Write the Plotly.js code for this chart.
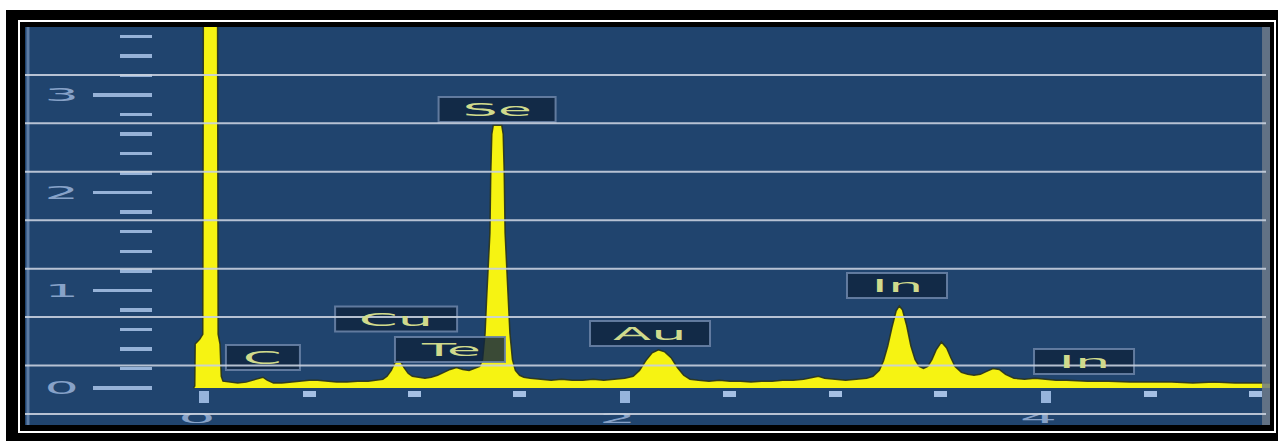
<!DOCTYPE html>
<html><head><meta charset="utf-8">
<script src="https://cdn.plot.ly/plotly-3.0.1.min.js"></script>
<style>
html,body{margin:0;padding:0;background:#fff;width:1278px;height:441px;overflow:hidden;}
#outer{position:absolute;left:6px;top:10px;width:1272px;height:431px;background:#000;}
#wline{position:absolute;left:18px;top:20px;width:1258px;height:413px;border:2px solid #fff;box-sizing:border-box;}
#chart{position:absolute;left:0;top:0;width:1278px;height:441px;}
</style></head><body>
<div id="outer"></div><div id="wline"></div><div id="chart"></div>
<script>
// ---- data (energy in keV, intensity) ----
const energy = [-0.05,-0.044,-0.042,-0.02,-0.006,-0.003,0.064,0.067,0.076,0.082,0.09,0.12,0.16,0.20,0.23,0.26,0.28,0.30,0.33,0.37,0.41,0.45,0.50,0.54,0.58,0.63,0.68,0.73,0.78,0.82,0.85,0.87,0.89,0.905,0.92,0.935,0.95,0.97,0.99,1.02,1.05,1.08,1.11,1.14,1.17,1.20,1.23,1.26,1.29,1.31,1.324,1.336,1.343,1.355,1.359,1.363,1.368,1.375,1.415,1.422,1.427,1.431,1.435,1.447,1.454,1.466,1.48,1.50,1.52,1.55,1.60,1.65,1.70,1.75,1.80,1.85,1.90,1.95,2.00,2.04,2.07,2.10,2.13,2.16,2.19,2.22,2.25,2.28,2.31,2.35,2.40,2.45,2.50,2.55,2.60,2.65,2.70,2.75,2.80,2.85,2.89,2.92,2.95,3.00,3.05,3.10,3.15,3.18,3.21,3.23,3.25,3.27,3.29,3.305,3.32,3.34,3.36,3.38,3.40,3.42,3.44,3.46,3.48,3.505,3.53,3.55,3.57,3.60,3.63,3.66,3.69,3.72,3.75,3.78,3.81,3.85,3.90,3.95,4.00,4.05,4.10,4.20,4.30,4.40,4.50,4.60,4.70,4.80,4.90,5.00,5.07];
const counts = [0,0.02,0.45,0.5,0.55,4.2,4.2,0.55,0.45,0.12,0.07,0.06,0.05,0.06,0.08,0.10,0.11,0.08,0.05,0.05,0.06,0.07,0.08,0.08,0.07,0.06,0.06,0.07,0.07,0.08,0.09,0.12,0.18,0.25,0.29,0.27,0.21,0.15,0.12,0.11,0.10,0.11,0.13,0.16,0.19,0.21,0.19,0.18,0.20,0.22,0.29,0.56,0.90,1.40,1.59,2.20,2.60,2.69,2.69,2.60,2.20,1.59,1.40,0.90,0.56,0.29,0.18,0.13,0.11,0.10,0.09,0.08,0.09,0.08,0.08,0.09,0.08,0.09,0.10,0.12,0.18,0.28,0.36,0.39,0.37,0.31,0.21,0.13,0.09,0.08,0.07,0.08,0.07,0.07,0.06,0.07,0.07,0.08,0.08,0.09,0.11,0.12,0.10,0.09,0.08,0.09,0.10,0.12,0.18,0.28,0.43,0.62,0.79,0.84,0.80,0.64,0.43,0.29,0.22,0.20,0.22,0.29,0.39,0.47,0.41,0.31,0.22,0.16,0.14,0.13,0.14,0.17,0.20,0.19,0.14,0.10,0.09,0.10,0.09,0.08,0.08,0.07,0.07,0.06,0.06,0.06,0.05,0.06,0.05,0.05,0.05];

const peakLabels  = ['C','Cu','Te','Se','Au','In','In'];
const labelEnergy = [0.280,0.913,1.169,1.393,2.120,3.294,4.183];
const labelLevel  = [0.312,0.706,0.394,2.851,0.558,1.049,0.271];

const xTickVals = [0,2,4];
const xTickText = ['0','2','4'];
const xMinorVals = [0.5,1,1.5,2.5,3,3.5,4.5,5];
const yTickVals = [0,1,2,3];
const yTickText = ['0','1','2','3'];
const yMinorVals = [0.2,0.4,0.6,0.8,1.2,1.4,1.6,1.8,2.2,2.4,2.6,2.8,3.2,3.4,3.6];

// ---- styling ----
const boxW = [74,122,110,117,120,100,100];
const boxH = 25;
const labelFont = {family:'DejaVu Sans', size:18, color:'rgb(208,218,140)'};

const shapes = [];
shapes.push({type:'line', xref:'paper', yref:'paper', x0:0.0024, x1:0.0024, y0:0, y1:1,
  line:{color:'rgba(140,170,210,0.55)', width:3}, layer:'below'});
shapes.push({type:'rect', xref:'paper', yref:'paper', x0:0.9936, x1:1.0, y0:0, y1:1,
  fillcolor:'rgba(110,122,138,0.85)', line:{width:0}, layer:'above'});
for (let i = 0; i < peakLabels.length; i++) {
  shapes.push({type:'rect', xref:'x', yref:'y', xsizemode:'pixel', ysizemode:'pixel',
    xanchor:labelEnergy[i], yanchor:labelLevel[i],
    x0:-boxW[i]/2, x1:boxW[i]/2, y0:-boxH/2, y1:boxH/2,
    fillcolor:'rgba(16,36,62,0.82)', line:{color:'rgba(105,130,165,0.9)', width:2}, layer:'above'});
}
for (let k = 0; k < 8; k++) {
  const g = -0.266 + k * 0.4959;
  shapes.push({type:'line', xref:'paper', yref:'y', x0:0, x1:0.9968, y0:g, y1:g,
    line:{color:'rgba(200,208,222,0.9)', width:2}, layer:'above'});
}

const annotations = peakLabels.map((t, i) => ({
  x: labelEnergy[i], y: labelLevel[i], xref:'x', yref:'y', text:t, showarrow:false,
  xanchor:'center', yanchor:'middle', font: labelFont
}));

const data = [{
  type:'scatter', mode:'lines', x:energy, y:counts, fill:'tozeroy',
  fillcolor:'rgb(246,243,18)', line:{color:'rgba(40,50,28,0.9)', width:1.5, shape:'linear'},
  hoverinfo:'skip'
}];

const tickFontColor = 'rgb(135,162,200)';
const layout = {
  width:1278, height:441,
  margin:{l:25, r:8, t:27, b:16, pad:0},
  paper_bgcolor:'rgba(0,0,0,0)',
  plot_bgcolor:'rgb(32,68,110)',
  showlegend:false,
  hovermode:false,
  xaxis:{range:[-0.851,5.067], anchor:'free', position:0.088, showgrid:false, zeroline:false, showline:false,
    tickmode:'array', tickvals:xTickVals, ticktext:xTickText, ticks:'outside', ticklen:12, tickwidth:10,
    tickcolor:'rgb(150,180,220)', ticklabelstandoff:3,
    tickfont:{family:'DejaVu Sans', size:14, color:tickFontColor},
    minor:{tickmode:'array', tickvals:xMinorVals, ticks:'outside', ticklen:6, tickwidth:13, tickcolor:'rgb(165,192,228)'}},
  yaxis:{range:[-0.379,3.696], anchor:'free', position:0.102, showgrid:false, zeroline:false, showline:false,
    tickmode:'array', tickvals:yTickVals, ticktext:yTickText, ticks:'outside', ticklen:59, tickwidth:3.5,
    tickcolor:'rgb(150,178,215)', ticklabelstandoff:22,
    tickfont:{family:'DejaVu Sans', size:18, color:tickFontColor},
    minor:{tickmode:'array', tickvals:yMinorVals, ticks:'outside', ticklen:32, tickwidth:3.5, tickcolor:'rgb(150,178,215)'}},
  shapes: shapes,
  annotations: annotations
};

function stretch(nodes, s, dx) {
  nodes.forEach(function (t) {
    try {
      const b = t.getBBox();
      const cx = b.x + b.width / 2;
      const tr = t.getAttribute('transform') || '';
      t.setAttribute('transform', tr + ' translate(' + (cx + dx) + ',0) scale(' + s + ',1) translate(' + (-cx) + ',0)');
    } catch (e) {}
  });
}

Plotly.newPlot('chart', data, layout, {staticPlot:true, displayModeBar:false}).then(function (gd) {
  stretch(gd.querySelectorAll('.ytick text'), 3.0, 0);
  stretch(gd.querySelectorAll('.xtick text'), 4.2, -7);
  stretch(gd.querySelectorAll('.annotation-text'), 3.1, 0);
});
</script>
</body></html>
